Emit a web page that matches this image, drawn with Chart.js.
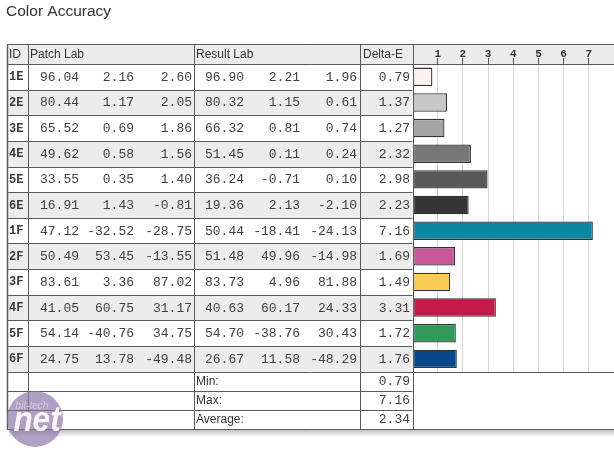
<!DOCTYPE html>
<html>
<head>
<meta charset="utf-8">
<script src="https://cdn.jsdelivr.net/npm/chart.js@4/dist/chart.umd.min.js"></script>
<style>
  html, body { margin: 0; padding: 0; background: #fff; }
  #wrap { position: relative; width: 614px; height: 450px; }
  canvas { display: block; }
</style>
</head>
<body>
<div id="wrap"><canvas id="c" width="614" height="450"></canvas></div>
<script>
const title = "Color Accuracy";
const headers = ["ID", "Patch Lab", "Result Lab", "Delta-E"];
const ids = ["1E", "2E", "3E", "4E", "5E", "6E", "1F", "2F", "3F", "4F", "5F", "6F"];
const patchL = ["96.04", "80.44", "65.52", "49.62", "33.55", "16.91", "47.12", "50.49", "83.61", "41.05", "54.14", "24.75"];
const patchA = ["2.16", "1.17", "0.69", "0.58", "0.35", "1.43", "-32.52", "53.45", "3.36", "60.75", "-40.76", "13.78"];
const patchB = ["2.60", "2.05", "1.86", "1.56", "1.40", "-0.81", "-28.75", "-13.55", "87.02", "31.17", "34.75", "-49.48"];
const resultL = ["96.90", "80.32", "66.32", "51.45", "36.24", "19.36", "50.44", "51.48", "83.73", "40.63", "54.70", "26.67"];
const resultA = ["2.21", "1.15", "0.81", "0.11", "-0.71", "2.13", "-18.41", "49.96", "4.96", "60.17", "-38.76", "11.58"];
const resultB = ["1.96", "0.61", "0.74", "0.24", "0.10", "-2.10", "-24.13", "-14.98", "81.88", "24.33", "30.43", "-48.29"];
const deltaE = [0.79, 1.37, 1.27, 2.32, 2.98, 2.23, 7.16, 1.69, 1.49, 3.31, 1.72, 1.76];
const barColors = ["#fcf1ef", "#c8c8c8", "#a4a4a4", "#777777", "#585858", "#363638",
                   "#0b87a1", "#c9589a", "#fccb55", "#c41a4a", "#319a5b", "#07478a"];
const summaryLabels = ["Min:", "Max:", "Average:"];
const summaryValues = ["0.79", "7.16", "2.34"];
const axisMin = 0, axisMax = 8;

const X = { left: 7, id: 28, patch: 194, result: 360, delta: 412.5, right: 614 };
const TOP = 44, SUMH = 19.1;
const LINE = "#5a5a5a";
const MONO = "Liberation Mono";
const SANS = "Liberation Sans";

const tablePlugin = {
  id: "table",
  beforeDraw(chart) {
    const c = chart.ctx, ca = chart.chartArea;
    const n = ids.length, rh = (ca.bottom - ca.top) / n;
    c.save();
    c.fillStyle = "#fff";
    c.fillRect(0, 0, chart.width, chart.height);
    // title
    c.fillStyle = "#333";
    c.font = "15.5px " + SANS;
    c.textBaseline = "middle";
    c.textAlign = "left";
    c.fillText(title, 6, 12);
    // header
    c.fillStyle = "#ececec";
    c.fillRect(X.left, TOP, X.right - X.left, ca.top - TOP);
    // alternating rows
    for (let i = 0; i < n; i++) {
      if (i % 2 === 1) {
        c.fillRect(X.left, ca.top + i * rh, X.delta - X.left, rh);
      }
    }
    // shadow
    const sb = ca.bottom + 3 * SUMH;
    const g = c.createLinearGradient(0, sb, 0, sb + 8);
    g.addColorStop(0, "rgba(0,0,0,0.28)");
    g.addColorStop(1, "rgba(0,0,0,0)");
    c.fillStyle = g;
    c.fillRect(X.left + 2, sb, X.right - X.left, 8);
    c.restore();
  },
  afterDraw(chart) {
    const c = chart.ctx, ca = chart.chartArea;
    const n = ids.length, rh = (ca.bottom - ca.top) / n;
    const sb = ca.bottom + 3 * SUMH;
    c.save();
    c.strokeStyle = LINE;
    c.lineWidth = 1;
    const h = (y, x1, x2) => { c.beginPath(); c.moveTo(x1, Math.round(y) + 0.5); c.lineTo(x2, Math.round(y) + 0.5); c.stroke(); };
    const v = (x, y1, y2) => { c.beginPath(); c.moveTo(Math.round(x) + 0.5, y1); c.lineTo(Math.round(x) + 0.5, y2); c.stroke(); };
    h(TOP, X.left, X.right);
    h(ca.top, X.left, X.right);
    for (let i = 1; i < n; i++) h(ca.top + i * rh, X.left, X.delta);
    h(ca.bottom, X.left, X.right);
    h(ca.bottom + SUMH, X.left, X.delta);
    h(ca.bottom + 2 * SUMH, X.left, X.delta);
    h(sb, X.left, X.right);
    [X.id, X.patch, X.result, X.delta].forEach(x => v(x, TOP, sb));
    c.lineWidth = 1.5;
    c.beginPath(); c.moveTo(X.left + 0.5, TOP); c.lineTo(X.left + 0.5, sb + 1); c.stroke();

    // header text
    c.fillStyle = "#333";
    c.font = "12px " + SANS;
    c.textBaseline = "middle";
    c.textAlign = "left";
    const hy = (TOP + ca.top) / 2 + 0.5;
    c.fillText(headers[0], X.left + 2, hy);
    c.fillText(headers[1], X.id + 2, hy);
    c.fillText(headers[2], X.patch + 2, hy);
    c.fillText(headers[3], X.result + 3, hy);

    // rows
    for (let i = 0; i < n; i++) {
      const y = chart.scales.y.getPixelForValue(i) + 0.5;
      c.fillStyle = "#3a3a3a";
      c.font = "bold 12px " + MONO;
      c.textAlign = "left";
      c.fillText(ids[i], X.left + 2, y);
      c.fillStyle = "#454040";
      c.font = "13px " + MONO;
      c.textAlign = "right";
      c.fillText(patchL[i], 79, y);
      c.fillText(patchA[i], 134, y);
      c.fillText(patchB[i], 192, y);
      c.fillText(resultL[i], 244, y);
      c.fillText(resultA[i], 300, y);
      c.fillText(resultB[i], 357, y);
      c.fillText(deltaE[i].toFixed(2), 410, y);
    }
    // summary
    for (let k = 0; k < summaryLabels.length; k++) {
      const y = ca.bottom + k * SUMH + SUMH / 2 + 0.5;
      c.fillStyle = "#333";
      c.font = "12px " + SANS;
      c.textAlign = "left";
      c.fillText(summaryLabels[k], X.patch + 2, y);
      c.fillStyle = "#454040";
      c.font = "13px " + MONO;
      c.textAlign = "right";
      c.fillText(summaryValues[k], 410, y);
    }

    // watermark logo
    c.globalAlpha = 0.68;
    c.fillStyle = "#8a73a6";
    c.beginPath(); c.arc(35, 419, 28, 0, Math.PI * 2); c.fill();
    c.globalAlpha = 0.92;
    c.fillStyle = "#fff";
    c.textAlign = "center";
    c.textBaseline = "alphabetic";
    c.save();
    c.translate(37, 431);
    c.scale(0.9, 1);
    c.font = "italic bold 35px " + SANS;
    c.fillText("net", 0, 0);
    c.restore();
    c.globalAlpha = 0.45;
    c.font = "italic 10px " + SANS;
    c.fillText("bit-tech", 32, 409);
    c.restore();
  }
};

new Chart(document.getElementById("c"), {
  type: "bar",
  data: {
    labels: ids,
    datasets: [{
      data: deltaE,
      backgroundColor: barColors,
      borderColor: "#333",
      borderWidth: 1.3,
      borderSkipped: false,
      barPercentage: 0.72,
      categoryPercentage: 1
    }]
  },
  options: {
    indexAxis: "y",
    responsive: false,
    animation: false,
    devicePixelRatio: 1,
    layout: { padding: { left: X.delta, right: 0, top: TOP, bottom: 450 - 371.7 } },
    plugins: { legend: { display: false }, tooltip: { enabled: false } },
    scales: {
      x: {
        position: "top",
        min: axisMin,
        max: axisMax,
        afterFit(s) { s.height = 20; s.paddingLeft = 0; s.paddingRight = 0; },
        border: { display: false },
        grid: {
          color: ctx => (ctx.tick && ctx.tick.value > axisMin && ctx.tick.value < axisMax) ? "#d6d6d6" : "rgba(0,0,0,0)",
          tickColor: ctx => (ctx.tick && ctx.tick.value > axisMin && ctx.tick.value < axisMax) ? "#555" : "rgba(0,0,0,0)",
          tickLength: 6,
          lineWidth: 1
        },
        ticks: {
          stepSize: 1,
          padding: -3,
          autoSkip: false,
          maxRotation: 0,
          color: "#333",
          font: { family: MONO, size: 11, weight: "bold" },
          callback: val => (val > axisMin && val < axisMax) ? String(val) : ""
        }
      },
      y: { display: false }
    }
  },
  plugins: [tablePlugin]
});
</script>
</body>
</html>
